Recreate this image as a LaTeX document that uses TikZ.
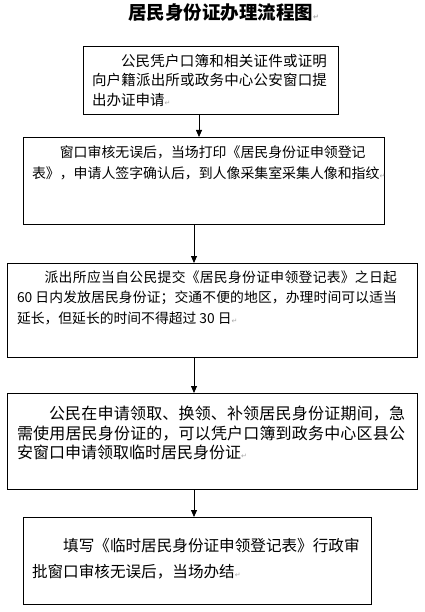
\documentclass[tikz,border=0pt]{standalone}
\usepackage{fontspec}
\setmainfont{Noto Sans CJK SC}
\newfontfamily\dejavu{DejaVu Sans}
\usetikzlibrary{arrows.meta}
\XeTeXlinebreaklocale "zh"
\XeTeXlinebreakskip=0pt plus 3pt
\lineskiplimit=-20pt
\newcommand\pmark{{\color{gray!70}\dejavu\fontsize{7}{7}\selectfont ↵}}
\begin{document}
\begin{tikzpicture}[x=1pt,y=-1pt,
  box/.style={draw, line width=0.8pt, inner sep=0pt, outer sep=0pt, anchor=center},
  txt/.style={inner sep=0pt, outer sep=0pt, anchor=base west},
  arr/.style={line width=0.8pt, -{Triangle[length=7pt,width=6pt]}}]
\useasboundingbox (0,0) rectangle (424,612);
% title
\node[txt] (title) at (128,20) {\fontsize{18.5}{20}\selectfont\bfseries 居民身份证办理流程图\pmark};
% boxes
\node[box, minimum width=255pt, minimum height=68pt] (b1) at (210.5,80) {};
\node[box, minimum width=361pt, minimum height=87pt] (b2) at (203.5,180.5) {};
\node[box, minimum width=410pt, minimum height=94pt] (b3) at (212,310) {};
\node[box, minimum width=410pt, minimum height=96pt] (b4) at (212,441) {};
\node[box, minimum width=348pt, minimum height=87pt] (b5) at (197,560.5) {};
% texts
\node[txt] (t1) at (92,66.2) {\parbox[t]{235pt}{\fontsize{14.5}{19.7}\selectfont\hspace*{2em}公民凭户口簿和相关证件或证明\linebreak 向户籍派出所或政务中心公安窗口提\linebreak 出办证申请\pmark}};
\node[txt] (t2) at (32,157.6) {\parbox[t]{360pt}{\fontsize{13.9}{21}\selectfont\hspace*{2em}窗口审核无误后，当场打印《居民身份证申领登记\\表》，申请人签字确认后，到人像采集室采集人像和指纹\pmark}};
\node[txt] (t3) at (17,282) {\parbox[t]{380pt}{\fontsize{13.8}{20.8}\selectfont\hspace*{2em}派出所应当自公民提交《居民身份证申领登记表》之日起\linebreak 60 日内发放居民身份证；交通不便的地区，办理时间可以适当\linebreak 延长，但延长的时间不得超过 30 日\pmark}};
\node[txt] (t4) at (17,419.4) {\parbox[t]{388pt}{\fontsize{16}{19.7}\selectfont\hspace*{2em}公民在申请领取、换领、补领居民身份证期间，急\linebreak 需使用居民身份证的，可以凭户口簿到政务中心区县公\linebreak 安窗口申请领取临时居民身份证\pmark}};
\node[txt] (t5) at (32,551.2) {\parbox[t]{340pt}{\fontsize{15.6}{26.7}\selectfont\hspace*{2em}填写《临时居民身份证申领登记表》行政审\\批窗口审核无误后，当场办结\pmark}};
% arrows
\draw[arr] (b1.south -| 199,0) -- (b2.north -| 199,0);
\draw[arr] (b2.south -| 194,0) -- (b3.north -| 194,0);
\draw[arr] (b3.south -| 194,0) -- (b4.north -| 194,0);
\draw[arr] (b4.south -| 194,0) -- (b5.north -| 194,0);
\end{tikzpicture}
\end{document}
